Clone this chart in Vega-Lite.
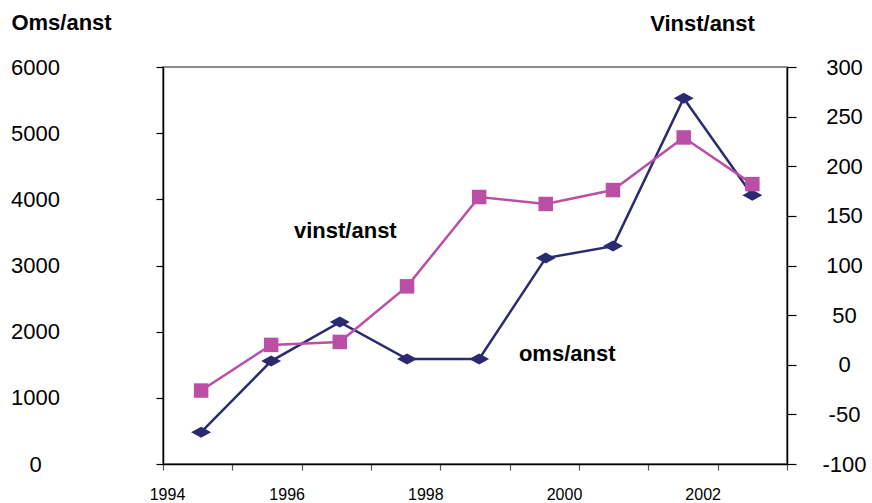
{
  "$schema": "https://vega.github.io/schema/vega-lite/v6.json",
  "autosize": "none",
  "width": 624,
  "height": 397,
  "padding": {"left": 163, "top": 67, "right": 85, "bottom": 39},
  "background": "white",
  "config": {
    "view": {"stroke": "#8a8a8a", "strokeWidth": 2},
    "font": "Liberation Sans",
    "axis": {"grid": false, "labelOverlap": false, "labelBound": false, "labelFlush": false, "labelColor": "black", "titleColor": "black", "domainColor": "black", "tickColor": "black", "domainWidth": 1.5, "tickWidth": 1.2}
  },
  "datasets": {
    "main": [
      {"x": 1994.55, "oms": 480, "vinst": -26},
      {"x": 1995.56, "oms": 1556, "vinst": 20},
      {"x": 1996.55, "oms": 2145, "vinst": 23},
      {"x": 1997.52, "oms": 1586, "vinst": 79},
      {"x": 1998.56, "oms": 1586, "vinst": 169},
      {"x": 1999.52, "oms": 3112, "vinst": 162},
      {"x": 2000.49, "oms": 3293, "vinst": 176},
      {"x": 2001.51, "oms": 5529, "vinst": 229},
      {"x": 2002.5, "oms": 4063, "vinst": 182}
    ]
  },
  "encoding": {
    "x": {
      "field": "x", "type": "quantitative",
      "scale": {"domain": [1994, 2003], "nice": false, "zero": false},
      "axis": {
        "title": null,
        "orient": "bottom",
        "values": [1994, 1995, 1996, 1997, 1998, 1999, 2000, 2001, 2002, 2003],
        "labelExpr": "(datum.value % 2 == 0 && datum.value <= 2002) ? ('' + datum.value) : ''",
        "tickSize": 6,
        "tickColor": "#555555",
        "labelFontSize": 16,
        "labelBaseline": "middle",
        "labelPadding": 24,
        "labelOffset": {"condition": {"test": "datum.value == 1994", "value": 4}, "value": -15}
      }
    }
  },
  "layer": [
    {
      "layer": [
        {
          "data": {"name": "main"},
          "mark": {"type": "line", "color": "#2b2a70", "strokeWidth": 2.5},
          "encoding": {
            "y": {
              "field": "oms", "type": "quantitative",
              "scale": {"domain": [0, 6000], "nice": false},
              "axis": {
                "orient": "left",
                "title": "Oms/anst",
                "values": [0, 1000, 2000, 3000, 4000, 5000, 6000],
                "labelExpr": "'' + datum.value",
                "tickSize": 7,
                "labelFontSize": 22,
                "labelAlign": "center",
                "labelBaseline": "middle",
                "labelPadding": 121,
                "titleAngle": 0,
                "titleX": -102,
                "titleY": -45,
                "titleAlign": "center",
                "titleBaseline": "middle",
                "titleFontSize": 22,
                "titleFontWeight": "bold"
              }
            }
          }
        },
        {
          "data": {"name": "main"},
          "mark": {"type": "point", "shape": "M-1,0L0,-0.55L1,0L0,0.55Z", "filled": true, "opacity": 1, "color": "#2b2a70", "size": 400},
          "encoding": {"y": {"field": "oms", "type": "quantitative"}}
        },
        {
          "data": {"values": [{"x": 1999.83, "oms": 1662, "label": "oms/anst"}]},
          "mark": {"type": "text", "fontSize": 22, "fontWeight": "bold", "color": "black", "align": "center", "baseline": "middle"},
          "encoding": {"y": {"field": "oms", "type": "quantitative"}, "text": {"field": "label"}}
        }
      ]
    },
    {
      "layer": [
        {
          "data": {"name": "main"},
          "mark": {"type": "line", "color": "#bb4fa6", "strokeWidth": 2.5},
          "encoding": {
            "y": {
              "field": "vinst", "type": "quantitative",
              "scale": {"domain": [-100, 300], "nice": false, "zero": false},
              "axis": {
                "orient": "right",
                "title": "Vinst/anst",
                "values": [-100, -50, 0, 50, 100, 150, 200, 250, 300],
                "labelExpr": "'' + datum.value",
                "tickSize": 9,
                "labelFontSize": 22,
                "labelAlign": "center",
                "labelBaseline": "middle",
                "labelPadding": 48,
                "titleAngle": 0,
                "titleX": -85,
                "titleY": -44,
                "titleAlign": "center",
                "titleBaseline": "middle",
                "titleFontSize": 22,
                "titleFontWeight": "bold"
              }
            }
          }
        },
        {
          "data": {"name": "main"},
          "mark": {"type": "point", "shape": "square", "filled": true, "opacity": 1, "color": "#bb4fa6", "size": 210},
          "encoding": {"y": {"field": "vinst", "type": "quantitative"}}
        },
        {
          "data": {"values": [{"x": 1996.63, "vinst": 135, "label": "vinst/anst"}]},
          "mark": {"type": "text", "fontSize": 22, "fontWeight": "bold", "color": "black", "align": "center", "baseline": "middle"},
          "encoding": {"y": {"field": "vinst", "type": "quantitative"}, "text": {"field": "label"}}
        }
      ]
    }
  ],
  "resolve": {"scale": {"y": "independent"}}
}
